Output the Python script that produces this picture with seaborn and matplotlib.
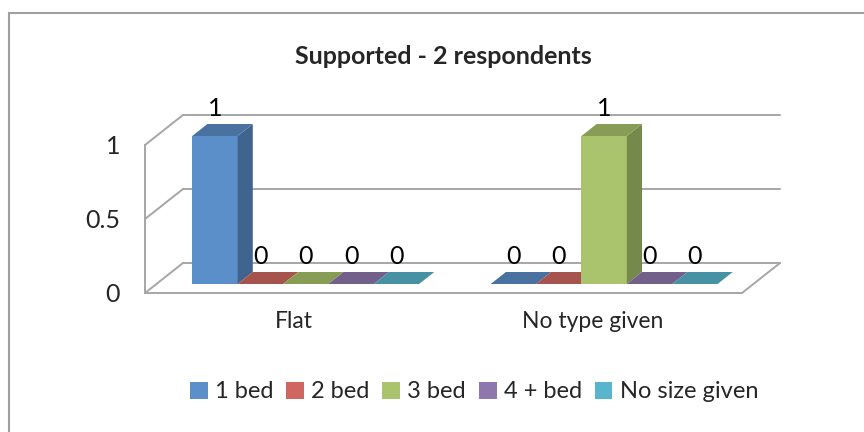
import numpy as np
import pandas as pd
import matplotlib.pyplot as plt
from matplotlib.patches import Polygon, Rectangle, Patch
from matplotlib.lines import Line2D
import seaborn as sns

# chart data
title = 'Supported - 2 respondents'
types = ['Flat', 'No type given']
sizes = ['1 bed', '2 bed', '3 bed', '4 + bed', 'No size given']
counts_flat = [1, 0, 0, 0, 0]
counts_no_type = [0, 0, 1, 0, 0]
y_ticks = [0, 0.5, 1]
y_tick_labels = ['0', '0.5', '1']

colors = ['#5B8FC9', '#CF6660', '#A9C46C', '#8E77AC', '#58B5CC']

df = pd.DataFrame({
    'type': np.repeat(types, len(sizes)),
    'size': sizes * len(types),
    'count': counts_flat + counts_no_type,
})

sns.set_style('white')
plt.rcParams['font.family'] = ['Lato', 'DejaVu Sans']

W, H = 864, 432
fig = plt.figure(figsize=(W / 100, H / 100), dpi=100)

# front plane of the 3d box, in pixels
left, right, bottom, top = 145, 742, 293, 145
ax = fig.add_axes([left / W, 1 - bottom / H, (right - left) / W, (bottom - top) / H])

sns.barplot(data=df, x='type', y='count', hue='size', hue_order=sizes,
            palette=colors, width=0.76, dodge=True, ax=ax, legend=False,
            saturation=1, edgecolor='none', linewidth=0)

ax.set_xlim(-0.5, 1.5)
ax.set_ylim(0, 1)

# pixel -> data units
ux = 2.0 / (right - left)
uy = 1.0 / (bottom - top)
DX, DY = 38 * ux, 30 * uy        # depth of the box
f0, f1 = 0.3, 0.7                # bar front/back depth fractions
grid_c = '#A6A6A6'
lw = 1.4


def shade(c, k):
    c = np.array(c[:3])
    return tuple(c * k)


# walls and floor
for y in y_ticks:
    ax.add_line(Line2D([-0.5 + DX, 1.5 + DX], [y + DY, y + DY], color=grid_c, lw=lw, clip_on=False, zorder=1))
    ax.add_line(Line2D([-0.5, -0.5 + DX], [y, y + DY], color=grid_c, lw=lw, clip_on=False, zorder=1))
ax.add_line(Line2D([1.5, 1.5 + DX], [0, DY], color=grid_c, lw=lw, clip_on=False, zorder=1))

# 3d bars
bars = sorted(ax.patches, key=lambda p: p.get_x())
for i, p in enumerate(bars):
    x0, w, h = p.get_x(), p.get_width(), p.get_height()
    c = p.get_facecolor()
    z = 3 + i
    p.set_x(x0 + f0 * DX)
    p.set_y(f0 * DY)
    p.set_zorder(z)
    p.set_clip_on(False)
    top_face = [(x0 + f0 * DX, h + f0 * DY), (x0 + w + f0 * DX, h + f0 * DY),
                (x0 + w + f1 * DX, h + f1 * DY), (x0 + f1 * DX, h + f1 * DY)]
    side_face = [(x0 + w + f0 * DX, f0 * DY), (x0 + w + f0 * DX, h + f0 * DY),
                 (x0 + w + f1 * DX, h + f1 * DY), (x0 + w + f1 * DX, f1 * DY)]
    ax.add_patch(Polygon(side_face, closed=True, facecolor=shade(c, 0.7), edgecolor='none', zorder=z, clip_on=False))
    ax.add_patch(Polygon(top_face, closed=True, facecolor=shade(c, 0.8), edgecolor='none', zorder=z, clip_on=False))
    ax.text(x0 + w / 2 + f0 * DX, h + f0 * DY + 28 * uy, f'{h:g}', ha='center', va='center',
            fontsize=18, color='black', zorder=20)

# axes styling
for s in ['top', 'right']:
    ax.spines[s].set_visible(False)
for s in ['left', 'bottom']:
    ax.spines[s].set_color(grid_c)
    ax.spines[s].set_linewidth(lw)
    ax.spines[s].set_zorder(2)
ax.set_yticks(y_ticks)
ax.set_yticklabels(y_tick_labels)
ax.set_xticks([-0.5, 0.5, 1.5], minor=True)
ax.tick_params(axis='y', length=7, width=lw, color=grid_c, labelsize=18, pad=11)
ax.tick_params(axis='x', which='major', length=0, labelsize=16.5, pad=13)
ax.tick_params(axis='x', which='minor', length=6, width=lw, color=grid_c)
ax.set_xlabel(None)
ax.set_ylabel(None)
ax.patch.set_visible(False)

fig.text(443 / W, 1 - 57 / H, title, ha='center', va='center', fontsize=18, fontweight='bold')

handles = [Patch(facecolor=c, edgecolor='none') for c in colors]
fig.legend(handles, sizes, loc='center', bbox_to_anchor=(474 / W, 1 - 392 / H), ncol=5,
           frameon=False, fontsize=17, handlelength=0.75, handleheight=0.75,
           handletextpad=0.3, columnspacing=0.55)

# chart frame
fig.add_artist(Rectangle((9 / W, -0.05), 1.0, 1.05 - 13 / H, transform=fig.transFigure,
                         fill=False, edgecolor='#A0A0A0', lw=1.5))

fig.savefig('out.png', dpi=100)
